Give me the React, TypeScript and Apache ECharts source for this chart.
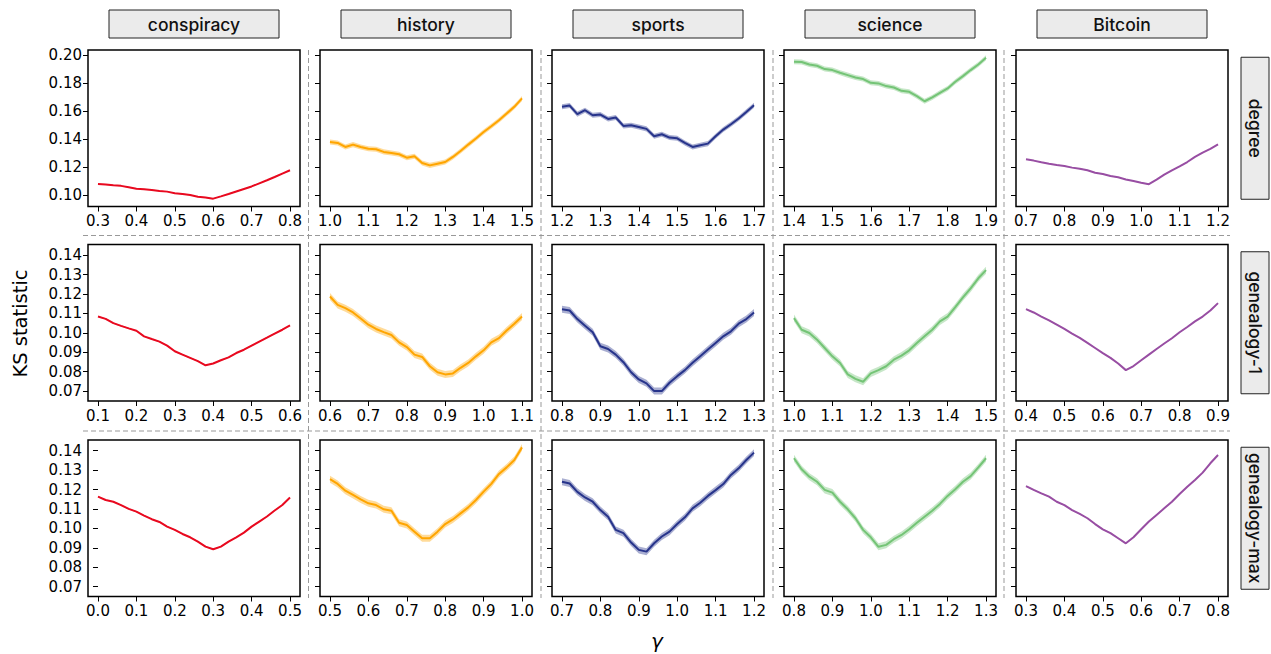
import React, { useEffect, useRef } from "react";
import * as echarts from "echarts";

// ---------- data ----------
const topics = ["conspiracy", "history", "sports", "science", "Bitcoin"];
const rowNames = ["degree", "genealogy-1", "genealogy-max"];
const colors = ["#e8091f", "#ffa500", "#27348b", "#74c476", "#984ea3"];
const bandHalfWidth = [0.0003, 0.0018, 0.0018, 0.0018, 0.0003];
const gammaStep = 0.02;
const gammaStart = [
  [0.3, 1.0, 1.2, 1.4, 0.7],
  [0.1, 0.6, 0.8, 1.0, 0.4],
  [0.0, 0.5, 0.7, 0.8, 0.3],
];
const yTicksDegree = [0.1, 0.12, 0.14, 0.16, 0.18, 0.2];
const yTicksGenealogy = [0.07, 0.08, 0.09, 0.1, 0.11, 0.12, 0.13, 0.14];
const yRanges = [
  [0.0921, 0.2036],
  [0.0649, 0.1455],
  [0.0649, 0.1455],
];

// degree
const conspiracyDegree = [0.1082, 0.1078, 0.1072, 0.1068, 0.1058, 0.1047, 0.1044, 0.1039, 0.1032, 0.1027, 0.1016, 0.1010, 0.1003, 0.0990, 0.0985, 0.0977, 0.0993, 0.1010, 0.1028, 0.1046, 0.1064, 0.1086, 0.1108, 0.1131, 0.1155, 0.1179];
const historyDegree = [0.1381, 0.1374, 0.1345, 0.1362, 0.1345, 0.1333, 0.1329, 0.1310, 0.1302, 0.1293, 0.1269, 0.1279, 0.1231, 0.1214, 0.1226, 0.1238, 0.1274, 0.1317, 0.1362, 0.1405, 0.1452, 0.1493, 0.1536, 0.1583, 0.1631, 0.1691];
const sportsDegree = [0.1631, 0.1640, 0.1579, 0.1607, 0.1571, 0.1576, 0.1545, 0.1555, 0.1495, 0.1500, 0.1488, 0.1474, 0.1421, 0.1436, 0.1412, 0.1407, 0.1374, 0.1345, 0.1357, 0.1369, 0.1421, 0.1469, 0.1507, 0.1548, 0.1595, 0.1643];
const scienceDegree = [0.1952, 0.1950, 0.1933, 0.1924, 0.1900, 0.1893, 0.1874, 0.1857, 0.1840, 0.1829, 0.1802, 0.1798, 0.1779, 0.1769, 0.1745, 0.1738, 0.1707, 0.1671, 0.1698, 0.1731, 0.1762, 0.1810, 0.1850, 0.1893, 0.1933, 0.1981];
const bitcoinDegree = [0.1257, 0.1248, 0.1236, 0.1226, 0.1217, 0.1210, 0.1198, 0.1190, 0.1179, 0.1162, 0.1152, 0.1138, 0.1129, 0.1114, 0.1102, 0.1090, 0.1080, 0.1112, 0.1148, 0.1179, 0.1207, 0.1238, 0.1274, 0.1305, 0.1331, 0.1364];

// genealogy-1
const conspiracyG1 = [0.1084, 0.1072, 0.1050, 0.1036, 0.1023, 0.1011, 0.0982, 0.0968, 0.0955, 0.0934, 0.0905, 0.0888, 0.0871, 0.0854, 0.0833, 0.0842, 0.0859, 0.0874, 0.0896, 0.0913, 0.0934, 0.0955, 0.0975, 0.0996, 0.1016, 0.1038];
const historyG1 = [0.1187, 0.1144, 0.1127, 0.1105, 0.1074, 0.1042, 0.1020, 0.1004, 0.0989, 0.0951, 0.0927, 0.0888, 0.0876, 0.0828, 0.0797, 0.0786, 0.0791, 0.0820, 0.0845, 0.0879, 0.0910, 0.0951, 0.0973, 0.1012, 0.1047, 0.1084];
const sportsG1 = [0.1122, 0.1115, 0.1071, 0.1037, 0.1003, 0.0931, 0.0917, 0.0888, 0.0849, 0.0797, 0.0760, 0.0740, 0.0700, 0.0700, 0.0743, 0.0777, 0.0808, 0.0846, 0.0880, 0.0914, 0.0948, 0.0982, 0.1008, 0.1047, 0.1071, 0.1105];
const scienceG1 = [0.1076, 0.1016, 0.0999, 0.0965, 0.0922, 0.0879, 0.0845, 0.0786, 0.0763, 0.0748, 0.0791, 0.0808, 0.0828, 0.0862, 0.0883, 0.0910, 0.0948, 0.0982, 0.1016, 0.1059, 0.1084, 0.1132, 0.1183, 0.1229, 0.1281, 0.1323];
const bitcoinG1 = [0.1122, 0.1105, 0.1084, 0.1064, 0.1042, 0.1020, 0.0996, 0.0974, 0.0948, 0.0922, 0.0896, 0.0871, 0.0842, 0.0808, 0.0829, 0.0859, 0.0888, 0.0917, 0.0945, 0.0972, 0.1003, 0.1030, 0.1059, 0.1084, 0.1115, 0.1153];

// genealogy-max
const conspiracyGmax = [0.1163, 0.1146, 0.1137, 0.1120, 0.1100, 0.1086, 0.1066, 0.1047, 0.1033, 0.1009, 0.0992, 0.0971, 0.0954, 0.0932, 0.0906, 0.0892, 0.0906, 0.0932, 0.0954, 0.0978, 0.1009, 0.1035, 0.1061, 0.1092, 0.1120, 0.1159];
const historyGmax = [0.1253, 0.1229, 0.1194, 0.1172, 0.1149, 0.1129, 0.1120, 0.1098, 0.1091, 0.1029, 0.1017, 0.0983, 0.0949, 0.0949, 0.0983, 0.1022, 0.1046, 0.1077, 0.1108, 0.1146, 0.1189, 0.1229, 0.1280, 0.1314, 0.1352, 0.1417];
const sportsGmax = [0.1240, 0.1231, 0.1188, 0.1159, 0.1137, 0.1094, 0.1060, 0.0992, 0.0975, 0.0927, 0.0889, 0.0880, 0.0923, 0.0958, 0.0983, 0.1022, 0.1057, 0.1103, 0.1132, 0.1167, 0.1197, 0.1228, 0.1275, 0.1309, 0.1352, 0.1390];
const scienceGmax = [0.1361, 0.1304, 0.1266, 0.1240, 0.1198, 0.1184, 0.1137, 0.1098, 0.1052, 0.0992, 0.0954, 0.0905, 0.0915, 0.0944, 0.0966, 0.0995, 0.1029, 0.1060, 0.1091, 0.1126, 0.1167, 0.1201, 0.1240, 0.1269, 0.1314, 0.1361];
const bitcoinGmax = [0.1218, 0.1198, 0.1180, 0.1163, 0.1137, 0.1120, 0.1094, 0.1074, 0.1052, 0.1022, 0.0995, 0.0975, 0.0949, 0.0923, 0.0954, 0.0995, 0.1035, 0.1069, 0.1103, 0.1137, 0.1177, 0.1214, 0.1249, 0.1287, 0.1335, 0.1378];

const panelValues = [
  [conspiracyDegree, historyDegree, sportsDegree, scienceDegree, bitcoinDegree],
  [conspiracyG1, historyG1, sportsG1, scienceG1, bitcoinG1],
  [conspiracyGmax, historyGmax, sportsGmax, scienceGmax, bitcoinGmax],
];

// ---------- layout ----------
const W = 1271;
const H = 654;
const GRID_LEFT = 88;
const COL_STEP = 232;
const GRID_W = 212;
const ROW_TOPS = [50, 244.5, 440];
const GRID_H = 156.5;
const X_PAD = 0.026;
const TICK_FONT = "DejaVu Sans";
const STRIP_FONT = "Inter";

const r4 = (v: number) => Math.round(v * 10000) / 10000;

export default function App() {
  const ref = useRef<HTMLDivElement>(null);

  useEffect(() => {
    document.body.style.margin = "0";
    const chart = echarts.init(ref.current as HTMLDivElement, null, { renderer: "svg" });

    const grids: any[] = [];
    const xAxes: any[] = [];
    const yAxes: any[] = [];
    const series: any[] = [];
    const graphic: any[] = [];

    for (let r = 0; r < 3; r++) {
      for (let c = 0; c < 5; c++) {
        const idx = r * 5 + c;
        const left = GRID_LEFT + c * COL_STEP;
        const top = ROW_TOPS[r];
        grids.push({
          left,
          top,
          width: GRID_W,
          height: GRID_H,
          show: true,
          borderColor: "#000",
          borderWidth: 1.5,
          backgroundColor: "#fff",
        });
        const start = gammaStart[r][c];
        const xTicks = [0, 1, 2, 3, 4, 5].map((k) => Math.round((start + k * 0.1) * 10) / 10);
        xAxes.push({
          type: "value",
          gridIndex: idx,
          min: start - X_PAD,
          max: start + 0.5 + X_PAD,
          axisLine: { show: false },
          splitLine: { show: false },
          axisTick: {
            show: true,
            inside: false,
            length: 5,
            lineStyle: { color: "#000", width: 1 },
            customValues: xTicks,
          },
          axisLabel: {
            customValues: xTicks,
            formatter: (v: number) => v.toFixed(1),
            fontFamily: TICK_FONT,
            fontSize: 15,
            color: "#000",
            margin: 7,
          },
        });
        const yTicks = r === 0 ? yTicksDegree : yTicksGenealogy;
        yAxes.push({
          type: "value",
          gridIndex: idx,
          min: yRanges[r][0],
          max: yRanges[r][1],
          axisLine: { show: false },
          splitLine: { show: false },
          axisTick: {
            show: true,
            inside: false,
            length: 5,
            lineStyle: { color: "#000", width: 1 },
            customValues: yTicks,
          },
          axisLabel: {
            show: c === 0,
            customValues: yTicks,
            formatter: (v: number) => v.toFixed(2),
            fontFamily: TICK_FONT,
            fontSize: 15,
            color: "#000",
            margin: 6,
          },
        });

        const vals = panelValues[r][c];
        const xs = vals.map((_, i) => r4(start + i * gammaStep));
        const w = bandHalfWidth[c];
        const bandData = vals.map((v, i) => [xs[i], r4(v - w), r4(v + w)]);
        const color = colors[c];
        series.push({
          type: "custom",
          xAxisIndex: idx,
          yAxisIndex: idx,
          silent: true,
          clip: true,
          z: 1,
          data: bandData,
          encode: { x: 0, y: [1, 2] },
          renderItem: (params: any, api: any) => {
            if (params.dataIndex !== 0) return null;
            const upper = bandData.map((d) => api.coord([d[0], d[2]]));
            const lower = bandData.map((d) => api.coord([d[0], d[1]])).reverse();
            return {
              type: "polygon",
              shape: { points: upper.concat(lower) },
              style: { fill: color, opacity: 0.4, stroke: "none" },
            };
          },
        });
        series.push({
          type: "line",
          xAxisIndex: idx,
          yAxisIndex: idx,
          symbol: "none",
          silent: true,
          lineStyle: { color, width: 2 },
          data: vals.map((v, i) => [xs[i], v]),
          z: 2,
        });
      }
    }

    // top strips
    topics.forEach((t, c) => {
      const cx = GRID_LEFT + c * COL_STEP + GRID_W / 2;
      graphic.push({
        type: "rect",
        shape: { x: cx - 85, y: 10, width: 170, height: 28 },
        style: { fill: "#ebebeb", stroke: "#222", lineWidth: 1 },
      });
      graphic.push({
        type: "text",
        x: cx,
        y: 24.5,
        style: {
          text: t,
          fontFamily: STRIP_FONT,
          fontWeight: 500,
          fontSize: 17.5,
          fill: "#111",
          textAlign: "center",
          textVerticalAlign: "middle",
          align: "center",
          verticalAlign: "middle",
        },
      });
    });

    // right strips
    rowNames.forEach((n, r) => {
      const cy = ROW_TOPS[r] + GRID_H / 2;
      graphic.push({
        type: "rect",
        shape: { x: 1241, y: cy - 71, width: 28, height: 142 },
        style: { fill: "#ebebeb", stroke: "#222", lineWidth: 1 },
      });
      graphic.push({
        type: "text",
        x: 1255,
        y: cy,
        rotation: -Math.PI / 2,
        style: {
          text: n,
          fontFamily: STRIP_FONT,
          fontWeight: 500,
          fontSize: 17.5,
          fill: "#111",
          textAlign: "center",
          textVerticalAlign: "middle",
          align: "center",
          verticalAlign: "middle",
        },
      });
    });

    // dashed separators
    [308.5, 541, 773, 1004].forEach((x) => {
      graphic.push({
        type: "line",
        shape: { x1: x, y1: 50, x2: x, y2: 598 },
        style: { stroke: "#999", lineWidth: 1, lineDash: [5, 3] },
      });
    });
    [235.5, 431].forEach((y) => {
      graphic.push({
        type: "line",
        shape: { x1: 83, y1: y, x2: 1230, y2: y },
        style: { stroke: "#999", lineWidth: 1, lineDash: [5, 3] },
      });
    });

    // axis titles
    graphic.push({
      type: "text",
      x: 20,
      y: 323.5,
      rotation: Math.PI / 2,
      style: {
        text: "KS statistic",
        fontFamily: TICK_FONT,
        fontSize: 19.5,
        fill: "#000",
        textAlign: "center",
        textVerticalAlign: "middle",
        align: "center",
        verticalAlign: "middle",
      },
    });
    graphic.push({
      type: "text",
      x: 657,
      y: 641,
      style: {
        text: "γ",
        fontFamily: TICK_FONT,
        fontStyle: "italic",
        fontSize: 20,
        fill: "#000",
        textAlign: "center",
        textVerticalAlign: "middle",
        align: "center",
        verticalAlign: "middle",
      },
    });

    chart.setOption({
      animation: false,
      backgroundColor: "#fff",
      grid: grids,
      xAxis: xAxes,
      yAxis: yAxes,
      series,
      graphic,
    });

    return () => {
      chart.dispose();
    };
  }, []);

  return <div ref={ref} style={{ width: W, height: H }} />;
}
